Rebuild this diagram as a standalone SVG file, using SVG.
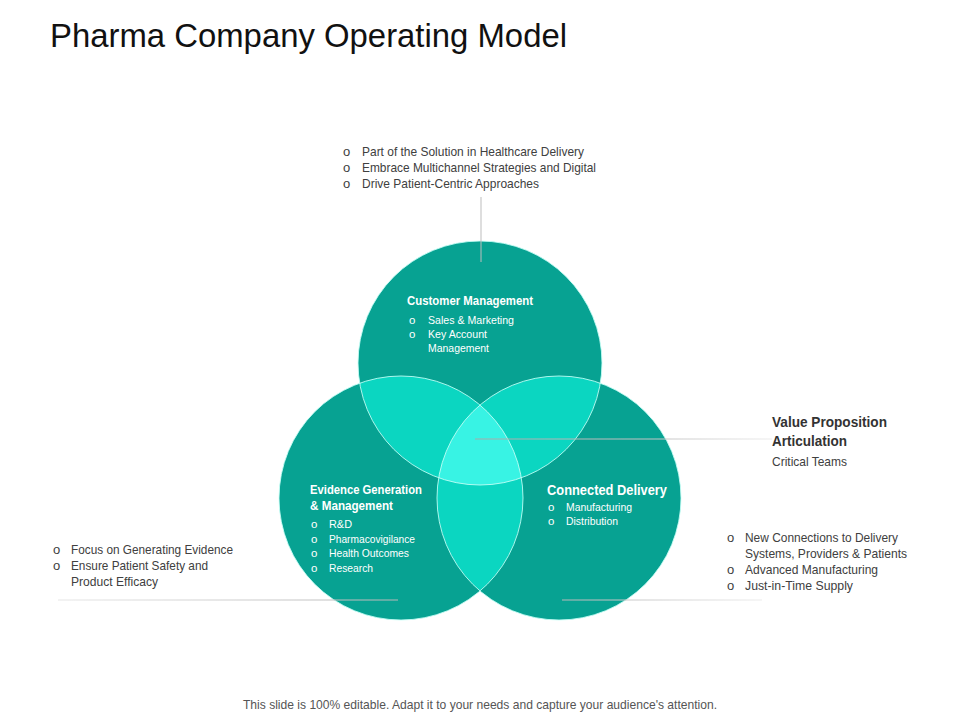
<svg xmlns="http://www.w3.org/2000/svg" width="960" height="720" viewBox="0 0 960 720">
<style>
.t{font-family:"Liberation Sans",Arial,sans-serif;}
.title{font-size:34px;fill:#111111;}
.body{font-size:13px;fill:#404040;}
.wb{font-size:12px;fill:#ffffff;font-weight:bold;}
.wt{font-size:11.5px;fill:#ffffff;}
.vb{font-size:14.5px;fill:#333333;font-weight:bold;}
.foot{font-size:13px;fill:#555555;}
.c{fill:#07A292;}
.edge{fill:none;stroke:#c8fff7;stroke-width:1;stroke-opacity:0.85;}
.ln{stroke:#bdbdbd;stroke-width:1;}
</style>
<defs>
<clipPath id="cpTop"><circle cx="480" cy="363" r="122"/></clipPath>
<clipPath id="cpLeft"><circle cx="401" cy="498" r="122"/></clipPath>
<clipPath id="cpRight"><circle cx="559" cy="498" r="122"/></clipPath>
<linearGradient id="gV" gradientUnits="userSpaceOnUse" x1="475" y1="0" x2="772" y2="0"><stop offset="0" stop-color="#a8a8a8"/><stop offset="0.6" stop-color="#c4c4c4"/><stop offset="1" stop-color="#ececec"/></linearGradient>
<linearGradient id="gL" gradientUnits="userSpaceOnUse" x1="58" y1="0" x2="398" y2="0"><stop offset="0" stop-color="#e6e6e6"/><stop offset="1" stop-color="#b8b8b8"/></linearGradient>
<linearGradient id="gR" gradientUnits="userSpaceOnUse" x1="562" y1="0" x2="762" y2="0"><stop offset="0" stop-color="#b8b8b8"/><stop offset="1" stop-color="#ececec"/></linearGradient>
</defs>
<rect width="960" height="720" fill="#ffffff"/>
<text class="t title" x="50" y="47" textLength="517" lengthAdjust="spacingAndGlyphs">Pharma Company Operating Model</text>

<g id="circles">
<g id="node-customer"><circle class="c" cx="480" cy="363" r="122"/></g>
<g id="node-evidence"><circle class="c" cx="401" cy="498" r="122"/></g>
<g id="node-delivery"><circle class="c" cx="559" cy="498" r="122"/></g>
<g id="overlaps">
<g clip-path="url(#cpTop)"><circle cx="401" cy="498" r="122" fill="#0BD6C1"/></g>
<g clip-path="url(#cpTop)"><circle cx="559" cy="498" r="122" fill="#0BD6C1"/></g>
<g clip-path="url(#cpLeft)"><circle cx="559" cy="498" r="122" fill="#0BD6C1"/></g>
<g clip-path="url(#cpTop)"><g clip-path="url(#cpLeft)"><circle cx="559" cy="498" r="122" fill="#38F3E4"/></g></g>
</g>
<circle class="edge" cx="480" cy="363" r="122"/>
<circle class="edge" cx="401" cy="498" r="122"/>
<circle class="edge" cx="559" cy="498" r="122"/>
</g>

<g id="connectors">
<line class="ln" x1="481" y1="197" x2="481" y2="262"/>
<line x1="475" y1="439" x2="772" y2="439" stroke="url(#gV)" stroke-width="1"/>
<line x1="58" y1="600" x2="398" y2="600" stroke="url(#gL)" stroke-width="1"/>
<line x1="562" y1="600" x2="762" y2="600" stroke="url(#gR)" stroke-width="1"/>
</g>

<g id="top-notes" class="t body">
<text x="343" y="156">o</text><text x="362" y="156" textLength="222" lengthAdjust="spacingAndGlyphs">Part of the Solution in Healthcare Delivery</text>
<text x="343" y="172">o</text><text x="362" y="172" textLength="234" lengthAdjust="spacingAndGlyphs">Embrace Multichannel Strategies and Digital</text>
<text x="343" y="188">o</text><text x="362" y="188" textLength="177" lengthAdjust="spacingAndGlyphs">Drive Patient-Centric Approaches</text>
</g>

<g id="label-customer" class="t">
<text class="wb" x="407" y="305" textLength="126" lengthAdjust="spacingAndGlyphs">Customer Management</text>
<text class="wt" x="409" y="324">o</text><text class="wt" x="428" y="324" textLength="86" lengthAdjust="spacingAndGlyphs">Sales &amp; Marketing</text>
<text class="wt" x="409" y="338">o</text><text class="wt" x="428" y="338" textLength="59" lengthAdjust="spacingAndGlyphs">Key Account</text>
<text class="wt" x="428" y="352" textLength="61" lengthAdjust="spacingAndGlyphs">Management</text>
</g>

<g id="label-evidence" class="t">
<text class="wb" x="310" y="494" textLength="112" lengthAdjust="spacingAndGlyphs">Evidence Generation</text>
<text class="wb" x="310" y="510" textLength="83" lengthAdjust="spacingAndGlyphs">&amp; Management</text>
<text class="wt" x="311" y="528">o</text><text class="wt" x="329" y="528" textLength="23" lengthAdjust="spacingAndGlyphs">R&amp;D</text>
<text class="wt" x="311" y="543">o</text><text class="wt" x="329" y="543" textLength="86" lengthAdjust="spacingAndGlyphs">Pharmacovigilance</text>
<text class="wt" x="311" y="557">o</text><text class="wt" x="329" y="557" textLength="80" lengthAdjust="spacingAndGlyphs">Health Outcomes</text>
<text class="wt" x="311" y="572">o</text><text class="wt" x="329" y="572" textLength="44" lengthAdjust="spacingAndGlyphs">Research</text>
</g>

<g id="label-delivery" class="t">
<text class="wb" x="547" y="495" style="font-size:14px" textLength="120" lengthAdjust="spacingAndGlyphs">Connected Delivery</text>
<text class="wt" x="548" y="511">o</text><text class="wt" x="566" y="511" textLength="66" lengthAdjust="spacingAndGlyphs">Manufacturing</text>
<text class="wt" x="548" y="525">o</text><text class="wt" x="566" y="525" textLength="52" lengthAdjust="spacingAndGlyphs">Distribution</text>
</g>

<g id="value-proposition" class="t">
<text class="vb" x="772" y="427" textLength="115" lengthAdjust="spacingAndGlyphs">Value Proposition</text>
<text class="vb" x="772" y="446" textLength="75" lengthAdjust="spacingAndGlyphs">Articulation</text>
<text class="body" x="772" y="466" textLength="75" lengthAdjust="spacingAndGlyphs">Critical Teams</text>
</g>

<g id="left-notes" class="t body">
<text x="53" y="554">o</text><text x="71" y="554" textLength="162" lengthAdjust="spacingAndGlyphs">Focus on Generating Evidence</text>
<text x="53" y="570">o</text><text x="71" y="570" textLength="137" lengthAdjust="spacingAndGlyphs">Ensure Patient Safety and</text>
<text x="71" y="586" textLength="87" lengthAdjust="spacingAndGlyphs">Product Efficacy</text>
</g>

<g id="right-notes" class="t body">
<text x="727" y="542">o</text><text x="745" y="542" textLength="153" lengthAdjust="spacingAndGlyphs">New Connections to Delivery</text>
<text x="745" y="558" textLength="162" lengthAdjust="spacingAndGlyphs">Systems, Providers &amp; Patients</text>
<text x="727" y="574">o</text><text x="745" y="574" textLength="133" lengthAdjust="spacingAndGlyphs">Advanced Manufacturing</text>
<text x="727" y="590">o</text><text x="745" y="590" textLength="108" lengthAdjust="spacingAndGlyphs">Just-in-Time Supply</text>
</g>

<text class="t foot" x="243" y="709" textLength="474" lengthAdjust="spacingAndGlyphs">This slide is 100% editable. Adapt it to your needs and capture your audience's attention.</text>
</svg>
